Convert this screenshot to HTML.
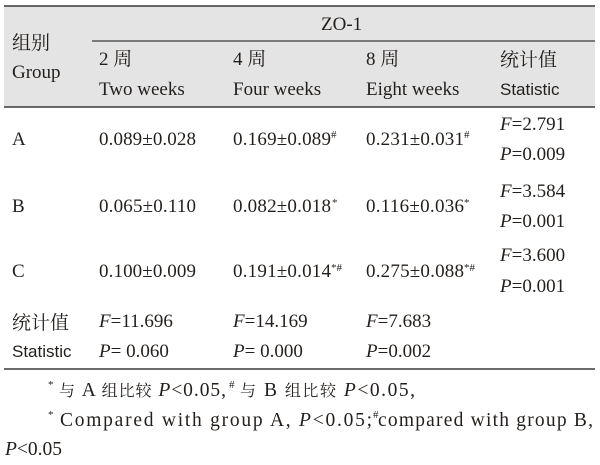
<!DOCTYPE html>
<html><head><meta charset="utf-8"><style>
html,body{margin:0;padding:0;background:#fff;}
svg{display:block;}
.s{font-family:"Liberation Serif","Noto Serif CJK SC",serif;font-size:19px;fill:#231f1c;}
.ss{font-family:"Liberation Sans","Noto Sans CJK SC",sans-serif;font-size:17px;fill:#231f1c;}
.c{font-family:"Liberation Serif","Noto Serif CJK SC",serif;font-size:19px;fill:#231f1c;}
.i{font-style:italic;}
.m{font-family:"Liberation Serif",serif;font-size:11px;fill:#231f1c;}
.f{font-family:"Liberation Serif","Noto Serif CJK SC",serif;font-size:19.5px;fill:#231f1c;}
.fc{font-family:"Noto Serif CJK SC",serif;font-size:16px;}
</style></head><body>
<svg width="600" height="465" viewBox="0 0 600 465" xmlns="http://www.w3.org/2000/svg">
<rect x="0" y="0" width="600" height="465" fill="#fff"/>
<rect x="4" y="6" width="591" height="101" fill="#e4e4e4"/>
<line x1="4" y1="6" x2="595" y2="6" stroke="#3a3a3a" stroke-width="1.6"/>
<line x1="92" y1="41" x2="595" y2="41" stroke="#3a3a3a" stroke-width="1.2"/>
<line x1="4" y1="107" x2="595" y2="107" stroke="#3a3a3a" stroke-width="1.4"/>
<line x1="4" y1="369" x2="595" y2="369" stroke="#3a3a3a" stroke-width="1.4"/>

<!-- header -->
<text class="s" x="321" y="30">ZO-1</text>
<text class="c" x="12" y="49">组别</text>
<text class="s" x="12" y="78">Group</text>
<text class="s" x="99" y="65">2 周</text>
<text class="s" x="99" y="95">Two weeks</text>
<text class="s" x="233" y="65">4 周</text>
<text class="s" x="233" y="95">Four weeks</text>
<text class="s" x="366" y="65">8 周</text>
<text class="s" x="366" y="95">Eight weeks</text>
<text class="c" x="500" y="66">统计值</text>
<text class="ss" x="500" y="95">Statistic</text>

<!-- Row A -->
<text class="s" x="12" y="145">A</text>
<text class="s" x="99" y="145" textLength="97" lengthAdjust="spacing">0.089±0.028</text>
<text class="s" x="233" y="145" textLength="98" lengthAdjust="spacing">0.169±0.089</text><text class="m" x="331" y="138">#</text>
<text class="s" x="366" y="145" textLength="98" lengthAdjust="spacing">0.231±0.031</text><text class="m" x="464" y="138">#</text>
<text class="s" x="500" y="130"><tspan class="i">F</tspan>=2.791</text>
<text class="s" x="500" y="160"><tspan class="i">P</tspan>=0.009</text>

<!-- Row B -->
<text class="s" x="12" y="212">B</text>
<text class="s" x="99" y="212" textLength="97" lengthAdjust="spacing">0.065±0.110</text>
<text class="s" x="233" y="212" textLength="98" lengthAdjust="spacing">0.082±0.018</text><text class="m" x="332" y="206">*</text>
<text class="s" x="366" y="212" textLength="98" lengthAdjust="spacing">0.116±0.036</text><text class="m" x="464" y="206">*</text>
<text class="s" x="500" y="197"><tspan class="i">F</tspan>=3.584</text>
<text class="s" x="500" y="227"><tspan class="i">P</tspan>=0.001</text>

<!-- Row C -->
<text class="s" x="12" y="277">C</text>
<text class="s" x="99" y="277" textLength="97" lengthAdjust="spacing">0.100±0.009</text>
<text class="s" x="233" y="277" textLength="98" lengthAdjust="spacing">0.191±0.014</text><text class="m" x="331" y="271">*#</text>
<text class="s" x="366" y="277" textLength="98" lengthAdjust="spacing">0.275±0.088</text><text class="m" x="464" y="271">*#</text>
<text class="s" x="500" y="261"><tspan class="i">F</tspan>=3.600</text>
<text class="s" x="500" y="292"><tspan class="i">P</tspan>=0.001</text>

<!-- Stats row -->
<text class="c" x="12" y="329">统计值</text>
<text class="s" x="99" y="327"><tspan class="i">F</tspan>=11.696</text>
<text class="s" x="233" y="327"><tspan class="i">F</tspan>=14.169</text>
<text class="s" x="366" y="327"><tspan class="i">F</tspan>=7.683</text>
<text class="ss" x="12" y="357">Statistic</text>
<text class="s" x="99" y="357"><tspan class="i">P</tspan>= 0.060</text>
<text class="s" x="233" y="357"><tspan class="i">P</tspan>= 0.000</text>
<text class="s" x="366" y="357"><tspan class="i">P</tspan>=0.002</text>

<!-- footnotes -->
<text class="m" x="48" y="388">*</text>
<text class="f" x="59" y="396" textLength="167" lengthAdjust="spacing"><tspan class="fc">与</tspan> A <tspan class="fc">组比较</tspan> <tspan class="i">P</tspan>&lt;0.05,</text>
<text class="m" x="229" y="388">#</text>
<text class="f" x="240" y="396" textLength="175" lengthAdjust="spacing"><tspan class="fc">与</tspan> B <tspan class="fc">组比较</tspan> <tspan class="i">P</tspan>&lt;0.05,</text>

<text class="m" x="48" y="418">*</text>
<text class="f" x="60" y="426" textLength="312" lengthAdjust="spacing">Compared with group A, <tspan class="i">P</tspan>&lt;0.05;</text>
<text class="m" x="373" y="418">#</text>
<text class="f" x="378" y="426" textLength="215" lengthAdjust="spacing">compared with group B,</text>
<text class="f" x="5" y="455" textLength="57" lengthAdjust="spacing"><tspan class="i">P</tspan>&lt;0.05</text>
</svg>
</body></html>
